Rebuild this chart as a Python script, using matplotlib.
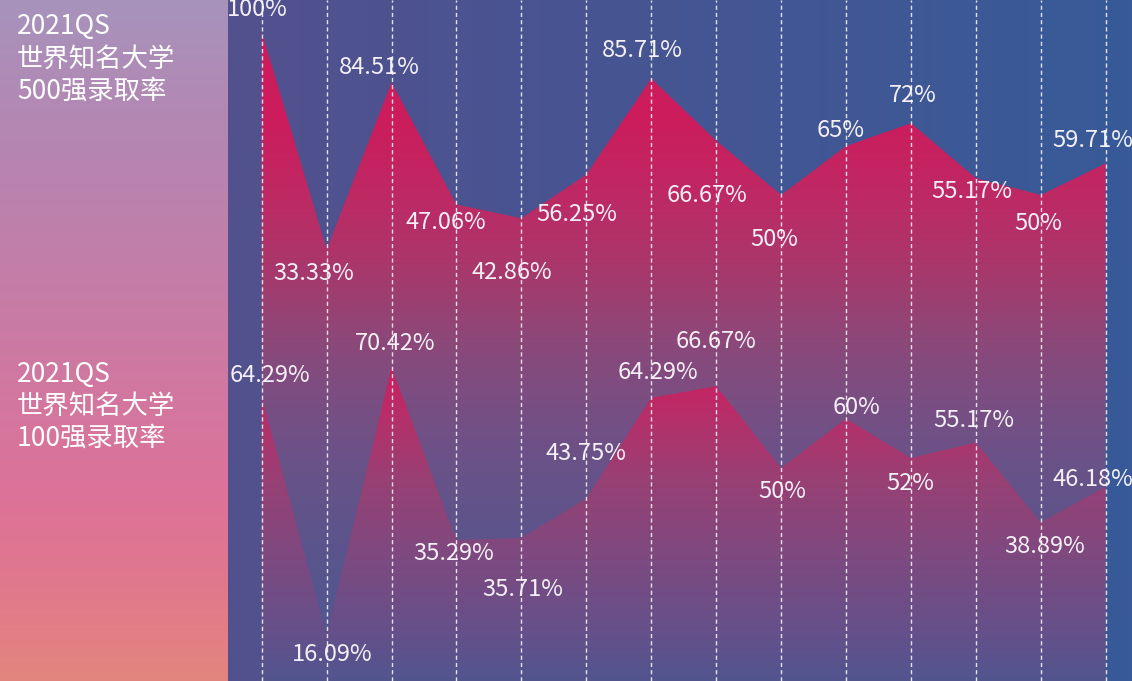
import numpy as np
import matplotlib
matplotlib.use('Agg')
import matplotlib.pyplot as plt
from matplotlib.colors import LinearSegmentedColormap

plt.rcParams['font.family'] = ['Noto Sans CJK SC', 'DejaVu Sans']

# 录取率数据 (14所学校, 无名称)
schools = np.arange(14)
rate_top500 = [100, 33.33, 84.51, 47.06, 42.86, 56.25, 85.71, 66.67, 50, 65, 72, 55.17, 50, 59.71]
rate_top100 = [64.29, 16.09, 70.42, 35.29, 35.71, 43.75, 64.29, 66.67, 50, 60, 52, 55.17, 38.89, 46.18]
label_top500 = ['100%', '33.33%', '84.51%', '47.06%', '42.86%', '56.25%', '85.71%',
                '66.67%', '50%', '65%', '72%', '55.17%', '50%', '59.71%']
label_top100 = ['64.29%', '16.09%', '70.42%', '35.29%', '35.71%', '43.75%', '64.29%',
                '66.67%', '50%', '60%', '52%', '55.17%', '38.89%', '46.18%']
title_top500 = ['2021QS', '世界知名大学', '500强录取率']
title_top100 = ['2021QS', '世界知名大学', '100强录取率']

# 标签偏移 (像素), 原图手工摆放
off500 = [(-4, 22), (-13, -24), (-12, 15), (-11, -18), (-10, -54), (-10, -40), (-9, 28),
          (-9, -55), (-7, -45), (-5, 16), (2, 28), (-4, -13), (-3, -29), (-13, 23)]
off100 = [(8, 22), (6, -20), (4, 24), (-3, -14), (1, -52), (0, 45), (7, 25),
          (0, 45), (1, -24), (10, 11), (-1, -25), (-2, 22), (4, -24), (-13, 7)]

W, H = 1132, 681
LEFT = 228


def stops_cmap(stops):
    return LinearSegmentedColormap.from_list('g', [(p / H, c) for p, c in stops], N=1024)


def vgrad(ax, stops, clip=None, z=1):
    img = np.linspace(0, 1, 1024).reshape(-1, 1)
    im = ax.imshow(img, cmap=stops_cmap(stops), aspect='auto', extent=[0, 1, 0, 1],
                   transform=ax.transAxes, origin='upper', zorder=z, interpolation='bilinear')
    if clip is not None:
        im.set_clip_path(clip.get_paths()[0], transform=ax.transData)
    return im


fig = plt.figure(figsize=(W / 100, H / 100), dpi=100)

# 左侧渐变面板
ax0 = fig.add_axes([0, 0, LEFT / W, 1])
ax0.axis('off')
vgrad(ax0, [(0, '#a793bc'), (150, '#b685b1'), (300, '#c67ca6'), (420, '#d5769e'),
            (500, '#dd7298'), (570, '#e0778f'), (681, '#e3857e')])
for block, y0 in [(title_top500, 26.5), (title_top100, 374)]:
    for i, line in enumerate(block):
        ax0.text(17 / LEFT, 1 - (y0 + i * 32.3) / H, line, color='white', fontsize=19,
                 ha='left', va='center', transform=ax0.transAxes)
ax0.set_xlim(0, 1)
ax0.set_ylim(0, 1)

# 右侧: 两个系列不同纵轴
ax1 = fig.add_axes([LEFT / W, 0, (W - LEFT) / W, 1])
ax2 = fig.add_axes([LEFT / W, 0, (W - LEFT) / W, 1])
ax2.patch.set_visible(False)
for a in (ax1, ax2):
    a.axis('off')

xlim = (-0.519, 13.405)
ylim1 = (-99.1, 109.8)
ylim2 = (6.5, 145.5)

# 背景横向渐变
bg = LinearSegmentedColormap.from_list('bg', ['#52518e', '#385a98'])
ax1.imshow(np.linspace(0, 1, 256).reshape(1, -1), cmap=bg, aspect='auto',
           extent=[0, 1, 0, 1], transform=ax1.transAxes, zorder=0)

poly1 = ax1.fill_between(schools, rate_top500, ylim1[0], facecolor='none', lw=0)
vgrad(ax1, [(0, '#cc1c5c'), (120, '#cc1c5c'), (200, '#bd2a64'), (260, '#ab366a'),
            (300, '#9c3f71'), (340, '#8c4879'), (400, '#7a4e82'), (460, '#6a5288'),
            (520, '#5f548b'), (600, '#55568f'), (681, '#4e5690')], clip=poly1)

poly2 = ax2.fill_between(schools, rate_top100, ylim2[0], facecolor='none', lw=0)
vgrad(ax2, [(0, '#cc1c5c'), (370, '#cc1f5e'), (420, '#b5306a'), (480, '#984074'),
            (560, '#7c4a80'), (630, '#66508a'), (681, '#52558f')], clip=poly2)

for k in schools:
    ax2.axvline(k, color='white', alpha=0.85, lw=1.0, ls=(0, (3.0, 2.2)), zorder=3)

for k, v, t, (dx, dy) in zip(schools, rate_top500, label_top500, off500):
    ax1.annotate(t, (k, v), xytext=(dx, dy), textcoords='offset pixels', ha='center',
                 va='center', color='#f4f0f6', fontsize=17, zorder=5, annotation_clip=False)
for k, v, t, (dx, dy) in zip(schools, rate_top100, label_top100, off100):
    ax2.annotate(t, (k, v), xytext=(dx, dy), textcoords='offset pixels', ha='center',
                 va='center', color='#f4f0f6', fontsize=17, zorder=5, annotation_clip=False)

ax1.set_xlim(*xlim)
ax1.set_ylim(*ylim1)
ax2.set_xlim(*xlim)
ax2.set_ylim(*ylim2)

fig.savefig('out.png', dpi=100)
